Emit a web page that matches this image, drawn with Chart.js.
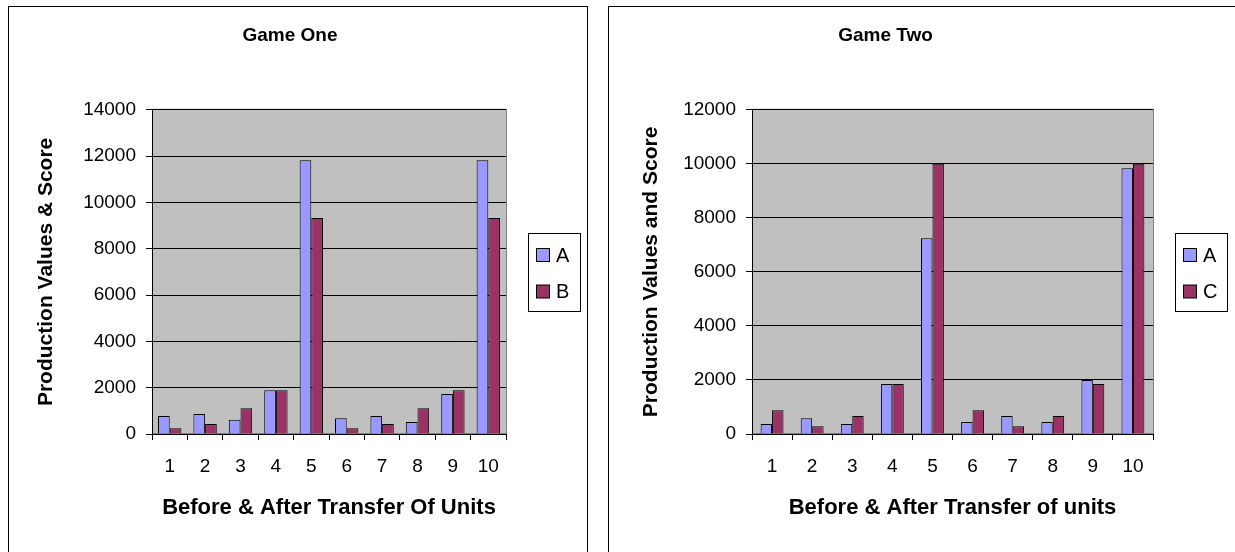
<!DOCTYPE html>
<html>
<head>
<meta charset="utf-8">
<script src="https://cdn.jsdelivr.net/npm/chart.js@4.4.0/dist/chart.umd.min.js"></script>
<style>
  body { margin: 0; background: #fff; width: 1235px; height: 552px; overflow: hidden; position: relative; }
  .panel { position: absolute; top: 6px; height: 600px; border: 1px solid #000; box-sizing: border-box; }
  canvas { position: absolute; top: 6px; }
</style>
</head>
<body>
<div class="panel" style="left:8px;width:580px"></div>
<div class="panel" style="left:608px;width:640px"></div>
<canvas id="gameOne" width="580" height="546" style="left:8px"></canvas>
<canvas id="gameTwo" width="626" height="546" style="left:608px"></canvas>
<script>
const units = ["1", "2", "3", "4", "5", "6", "7", "8", "9", "10"];

const gameOneA = [780, 860, 610, 1890, 11820, 680, 780, 520, 1730, 11820];
const gameOneB = [250, 430, 1110, 1890, 9330, 250, 430, 1110, 1890, 9330];

const gameTwoA = [370, 580, 370, 1850, 7250, 440, 670, 440, 2000, 9840];
const gameTwoC = [880, 290, 670, 1850, 10000, 880, 290, 670, 1850, 10000];

Chart.defaults.font.family = "'Liberation Sans', Arial, sans-serif";
Chart.defaults.color = "#000";
Chart.defaults.animation = false;

// grey plot area with a thin grey frame
const plotBackground = {
    id: "plotBackground",
    beforeDraw: chart => {
        const a = chart.chartArea;
        const ctx = chart.ctx;
        ctx.save();
        ctx.fillStyle = "#c0c0c0";
        ctx.fillRect(a.left, a.top, a.right - a.left, a.bottom - a.top);
        ctx.strokeStyle = "#808080";
        ctx.lineWidth = 1;
        ctx.strokeRect(a.left + 0.5, a.top - 0.5, a.right - a.left, a.bottom - a.top);
        ctx.restore();
    }
};

// nudge the chart title sideways
const titleShift = {
    id: "titleShift",
    afterLayout: (chart, args, opts) => {
        const t = chart.titleBlock;
        if (t && opts.dx) {
            t.left += opts.dx;
            t.right += opts.dx;
        }
    }
};

// framed legend to the right of the plot
const boxedLegend = {
    id: "boxedLegend",
    afterDraw: chart => {
        const a = chart.chartArea;
        const ctx = chart.ctx;
        const sets = chart.data.datasets;
        const w = 52, h = 78;
        const left = Math.round(a.right + 22);
        const top = Math.round((a.top + a.bottom) / 2 - h / 2);
        ctx.save();
        ctx.strokeStyle = "#000";
        ctx.lineWidth = 1;
        ctx.strokeRect(left + 0.5, top + 0.5, w, h);
        ctx.font = "20px 'Liberation Sans', Arial, sans-serif";
        ctx.textBaseline = "middle";
        sets.forEach((ds, i) => {
            const cy = top + 22 + i * 36.5;
            ctx.fillStyle = ds.backgroundColor;
            ctx.fillRect(left + 8.5, cy - 6.5, 13, 13);
            ctx.strokeStyle = "#000";
            ctx.strokeRect(left + 8.5, cy - 6.5, 13, 13);
            ctx.fillStyle = "#000";
            ctx.fillText(ds.label, left + 28, cy + 1);
        });
        ctx.restore();
    }
};

function makeChart(id, title, yTitle, xTitle, seriesA, seriesB, labelB, yMax, groupWidth, padRight, yTitlePad, titleDx) {
    const ctx = document.getElementById(id).getContext("2d");
    return new Chart(ctx, {
        type: "bar",
        data: {
            labels: units,
            datasets: [
                {
                    label: "A",
                    data: seriesA,
                    backgroundColor: "#9999ff",
                    borderColor: "#000",
                    borderWidth: 1,
                    barPercentage: 1,
                    categoryPercentage: groupWidth
                },
                {
                    label: labelB,
                    data: seriesB,
                    backgroundColor: "#993366",
                    borderColor: "#000",
                    borderWidth: 1,
                    barPercentage: 1,
                    categoryPercentage: groupWidth
                }
            ]
        },
        options: {
            responsive: false,
            layout: { padding: { left: 10, right: padRight, top: 0, bottom: 0 } },
            plugins: {
                legend: { display: false },
                tooltip: { enabled: false },
                titleShift: { dx: titleDx },
                title: {
                    display: true,
                    text: title,
                    font: { size: 19, weight: "bold" },
                    color: "#000",
                    padding: { top: 18, bottom: 63 }
                }
            },
            scales: {
                x: {
                    grid: { display: true, drawOnChartArea: false, offset: true, tickLength: 6, color: "#000" },
                    border: { color: "#000", width: 1 },
                    ticks: { font: { size: 19 }, padding: 15, maxRotation: 0, autoSkip: false },
                    title: {
                        display: true,
                        text: xTitle,
                        font: { size: 22, weight: "bold" },
                        padding: { top: 0, bottom: 31 }
                    },
                    afterFit: scale => { scale.height = 118; }
                },
                y: {
                    min: 0,
                    max: yMax,
                    grid: { color: "#000", tickLength: 6, lineWidth: 1 },
                    border: { color: "#000", width: 1 },
                    ticks: {
                        stepSize: 2000,
                        font: { size: 19 },
                        padding: 10,
                        callback: v => String(v)
                    },
                    title: {
                        display: true,
                        text: yTitle,
                        font: { size: 21, weight: "bold" },
                        padding: { top: yTitlePad, bottom: 0 }
                    },
                    afterFit: scale => { scale.width = 134; }
                }
            }
        },
        plugins: [plotBackground, titleShift, boxedLegend]
    });
}

makeChart("gameOne", "Game One", "Production Values & Score", "Before & After Transfer Of Units",
    gameOneA, gameOneB, "B", 14000, 0.66, 82, 16, 28);
makeChart("gameTwo", "Game Two", "Production Values and Score", "Before & After Transfer of units",
    gameTwoA, gameTwoC, "C", 12000, 0.57, 81, 21, 0);
</script>
</body>
</html>
